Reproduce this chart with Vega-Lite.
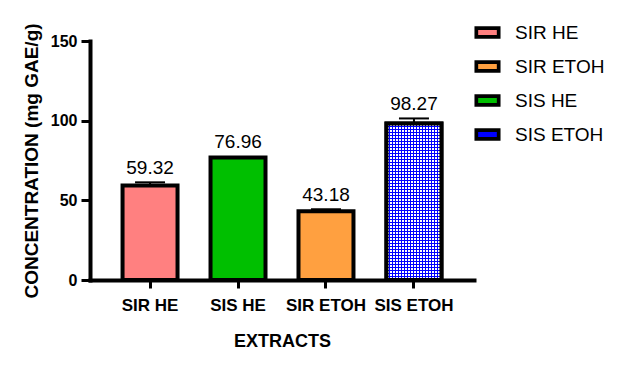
{
  "$schema": "https://vega.github.io/schema/vega-lite/v6.json",
  "width": 384,
  "height": 239,
  "autosize": "none",
  "padding": {"left": 90, "top": 41, "right": 149, "bottom": 91},
  "config": {
    "font": "Liberation Sans",
    "view": {"stroke": null},
    "axis": {"grid": false, "domainColor": "black", "tickColor": "black", "labelColor": "black", "titleColor": "black"}
  },
  "data": {
    "values": [
      {"extract": "SIR HE", "value": 59.32, "hi": 61.3},
      {"extract": "SIS HE", "value": 76.96, "hi": 77.9},
      {"extract": "SIR ETOH", "value": 43.18, "hi": 44.4},
      {"extract": "SIS ETOH", "value": 98.27, "hi": 101.4}
    ]
  },
  "encoding": {
    "x": {
      "field": "extract", "type": "nominal",
      "sort": ["SIR HE", "SIS HE", "SIR ETOH", "SIS ETOH"],
      "scale": {"paddingInner": 0.375, "paddingOuter": 0.37},
      "axis": {
        "title": "EXTRACTS", "labelAngle": 0,
        "labelFont": "Liberation Sans", "labelFontWeight": "bold", "labelFontSize": 17,
        "titleFont": "Liberation Sans", "titleFontWeight": "bold", "titleFontSize": 18,
        "domainWidth": 4, "domainCap": "square", "tickWidth": 3, "tickSize": 8, "labelPadding": 9, "titlePadding": 19
      }
    }
  },
  "layer": [
    {
      "mark": {"type": "bar", "stroke": "black", "strokeWidth": 4},
      "encoding": {
        "y": {
          "field": "value", "type": "quantitative",
          "scale": {"domain": [0, 150], "nice": false},
          "axis": {
            "title": "CONCENTRATION (mg GAE/g)", "values": [0, 50, 100, 150],
            "labelFont": "Liberation Sans", "labelFontWeight": "bold", "labelFontSize": 16,
            "titleFont": "Liberation Sans", "titleFontWeight": "bold", "titleFontSize": 19,
            "domainWidth": 4, "domainCap": "square", "tickWidth": 3, "tickSize": 9, "labelPadding": 4, "titlePadding": 9
          }
        },
        "color": {
          "field": "extract", "type": "nominal",
          "scale": {"domain": ["SIR HE", "SIR ETOH", "SIS HE", "SIS ETOH"], "range": ["#ff8080", "#ffa040", "#00bf00", "#0000ff"]},
          "legend": {
            "title": null, "orient": "none", "legendX": 384, "legendY": -22,
            "symbolType": "M-1,-0.4L1,-0.4L1,0.4L-1,0.4Z", "symbolSize": 500,
            "symbolStrokeColor": "black", "symbolStrokeWidth": 3.7, "symbolOpacity": 1,
            "labelFont": "Liberation Sans", "labelFontSize": 19, "labelColor": "black",
            "labelOffset": 14, "rowPadding": 8
          }
        }
      }
    },
    {
      "transform": [{"filter": "datum.extract == 'SIS ETOH'"}],
      "mark": {"type": "bar", "fill": {"gradient": "linear", "x1": 0, "y1": 0, "x2": 1, "y2": 0, "stops": [
        {"offset": 0, "color": "rgba(255,255,255,0)"}, {"offset": 0.0182, "color": "rgba(255,255,255,0)"}, {"offset": 0.0182, "color": "#ffffff"}, {"offset": 0.0545, "color": "#ffffff"},
        {"offset": 0.0545, "color": "rgba(255,255,255,0)"}, {"offset": 0.0727, "color": "rgba(255,255,255,0)"}, {"offset": 0.0727, "color": "#ffffff"}, {"offset": 0.1091, "color": "#ffffff"},
        {"offset": 0.1091, "color": "rgba(255,255,255,0)"}, {"offset": 0.1273, "color": "rgba(255,255,255,0)"}, {"offset": 0.1273, "color": "#ffffff"}, {"offset": 0.1636, "color": "#ffffff"},
        {"offset": 0.1636, "color": "rgba(255,255,255,0)"}, {"offset": 0.1818, "color": "rgba(255,255,255,0)"}, {"offset": 0.1818, "color": "#ffffff"}, {"offset": 0.2182, "color": "#ffffff"},
        {"offset": 0.2182, "color": "rgba(255,255,255,0)"}, {"offset": 0.2364, "color": "rgba(255,255,255,0)"}, {"offset": 0.2364, "color": "#ffffff"}, {"offset": 0.2727, "color": "#ffffff"},
        {"offset": 0.2727, "color": "rgba(255,255,255,0)"}, {"offset": 0.2909, "color": "rgba(255,255,255,0)"}, {"offset": 0.2909, "color": "#ffffff"}, {"offset": 0.3273, "color": "#ffffff"},
        {"offset": 0.3273, "color": "rgba(255,255,255,0)"}, {"offset": 0.3455, "color": "rgba(255,255,255,0)"}, {"offset": 0.3455, "color": "#ffffff"}, {"offset": 0.3818, "color": "#ffffff"},
        {"offset": 0.3818, "color": "rgba(255,255,255,0)"}, {"offset": 0.4, "color": "rgba(255,255,255,0)"}, {"offset": 0.4, "color": "#ffffff"}, {"offset": 0.4364, "color": "#ffffff"},
        {"offset": 0.4364, "color": "rgba(255,255,255,0)"}, {"offset": 0.4545, "color": "rgba(255,255,255,0)"}, {"offset": 0.4545, "color": "#ffffff"}, {"offset": 0.4909, "color": "#ffffff"},
        {"offset": 0.4909, "color": "rgba(255,255,255,0)"}, {"offset": 0.5091, "color": "rgba(255,255,255,0)"}, {"offset": 0.5091, "color": "#ffffff"}, {"offset": 0.5455, "color": "#ffffff"},
        {"offset": 0.5455, "color": "rgba(255,255,255,0)"}, {"offset": 0.5636, "color": "rgba(255,255,255,0)"}, {"offset": 0.5636, "color": "#ffffff"}, {"offset": 0.6, "color": "#ffffff"},
        {"offset": 0.6, "color": "rgba(255,255,255,0)"}, {"offset": 0.6182, "color": "rgba(255,255,255,0)"}, {"offset": 0.6182, "color": "#ffffff"}, {"offset": 0.6545, "color": "#ffffff"},
        {"offset": 0.6545, "color": "rgba(255,255,255,0)"}, {"offset": 0.6727, "color": "rgba(255,255,255,0)"}, {"offset": 0.6727, "color": "#ffffff"}, {"offset": 0.7091, "color": "#ffffff"},
        {"offset": 0.7091, "color": "rgba(255,255,255,0)"}, {"offset": 0.7273, "color": "rgba(255,255,255,0)"}, {"offset": 0.7273, "color": "#ffffff"}, {"offset": 0.7636, "color": "#ffffff"},
        {"offset": 0.7636, "color": "rgba(255,255,255,0)"}, {"offset": 0.7818, "color": "rgba(255,255,255,0)"}, {"offset": 0.7818, "color": "#ffffff"}, {"offset": 0.8182, "color": "#ffffff"},
        {"offset": 0.8182, "color": "rgba(255,255,255,0)"}, {"offset": 0.8364, "color": "rgba(255,255,255,0)"}, {"offset": 0.8364, "color": "#ffffff"}, {"offset": 0.8727, "color": "#ffffff"},
        {"offset": 0.8727, "color": "rgba(255,255,255,0)"}, {"offset": 0.8909, "color": "rgba(255,255,255,0)"}, {"offset": 0.8909, "color": "#ffffff"}, {"offset": 0.9273, "color": "#ffffff"},
        {"offset": 0.9273, "color": "rgba(255,255,255,0)"}, {"offset": 0.9455, "color": "rgba(255,255,255,0)"}, {"offset": 0.9455, "color": "#ffffff"}, {"offset": 0.9818, "color": "#ffffff"},
        {"offset": 0.9818, "color": "rgba(255,255,255,0)"}, {"offset": 1, "color": "rgba(255,255,255,0)"}
      ]}},
      "encoding": {"y": {"field": "value", "type": "quantitative"}}
    },
    {
      "transform": [{"filter": "datum.extract == 'SIS ETOH'"}],
      "mark": {"type": "bar", "stroke": "black", "strokeWidth": 4, "fill": {"gradient": "linear", "x1": 0, "y1": 0, "x2": 0, "y2": 1, "stops": [
        {"offset": 0, "color": "#0000ff"}, {"offset": 0.0064, "color": "#0000ff"}, {"offset": 0.0064, "color": "rgba(0,0,255,0)"}, {"offset": 0.0192, "color": "rgba(0,0,255,0)"},
        {"offset": 0.0192, "color": "#0000ff"}, {"offset": 0.0255, "color": "#0000ff"}, {"offset": 0.0255, "color": "rgba(0,0,255,0)"}, {"offset": 0.0383, "color": "rgba(0,0,255,0)"},
        {"offset": 0.0383, "color": "#0000ff"}, {"offset": 0.0447, "color": "#0000ff"}, {"offset": 0.0447, "color": "rgba(0,0,255,0)"}, {"offset": 0.0575, "color": "rgba(0,0,255,0)"},
        {"offset": 0.0575, "color": "#0000ff"}, {"offset": 0.0639, "color": "#0000ff"}, {"offset": 0.0639, "color": "rgba(0,0,255,0)"}, {"offset": 0.0766, "color": "rgba(0,0,255,0)"},
        {"offset": 0.0766, "color": "#0000ff"}, {"offset": 0.0830, "color": "#0000ff"}, {"offset": 0.0830, "color": "rgba(0,0,255,0)"}, {"offset": 0.0958, "color": "rgba(0,0,255,0)"},
        {"offset": 0.0958, "color": "#0000ff"}, {"offset": 0.1022, "color": "#0000ff"}, {"offset": 0.1022, "color": "rgba(0,0,255,0)"}, {"offset": 0.1149, "color": "rgba(0,0,255,0)"},
        {"offset": 0.1149, "color": "#0000ff"}, {"offset": 0.1213, "color": "#0000ff"}, {"offset": 0.1213, "color": "rgba(0,0,255,0)"}, {"offset": 0.1341, "color": "rgba(0,0,255,0)"},
        {"offset": 0.1341, "color": "#0000ff"}, {"offset": 0.1405, "color": "#0000ff"}, {"offset": 0.1405, "color": "rgba(0,0,255,0)"}, {"offset": 0.1533, "color": "rgba(0,0,255,0)"},
        {"offset": 0.1533, "color": "#0000ff"}, {"offset": 0.1596, "color": "#0000ff"}, {"offset": 0.1596, "color": "rgba(0,0,255,0)"}, {"offset": 0.1724, "color": "rgba(0,0,255,0)"},
        {"offset": 0.1724, "color": "#0000ff"}, {"offset": 0.1788, "color": "#0000ff"}, {"offset": 0.1788, "color": "rgba(0,0,255,0)"}, {"offset": 0.1916, "color": "rgba(0,0,255,0)"},
        {"offset": 0.1916, "color": "#0000ff"}, {"offset": 0.1980, "color": "#0000ff"}, {"offset": 0.1980, "color": "rgba(0,0,255,0)"}, {"offset": 0.2107, "color": "rgba(0,0,255,0)"},
        {"offset": 0.2107, "color": "#0000ff"}, {"offset": 0.2171, "color": "#0000ff"}, {"offset": 0.2171, "color": "rgba(0,0,255,0)"}, {"offset": 0.2299, "color": "rgba(0,0,255,0)"},
        {"offset": 0.2299, "color": "#0000ff"}, {"offset": 0.2363, "color": "#0000ff"}, {"offset": 0.2363, "color": "rgba(0,0,255,0)"}, {"offset": 0.2490, "color": "rgba(0,0,255,0)"},
        {"offset": 0.2490, "color": "#0000ff"}, {"offset": 0.2554, "color": "#0000ff"}, {"offset": 0.2554, "color": "rgba(0,0,255,0)"}, {"offset": 0.2682, "color": "rgba(0,0,255,0)"},
        {"offset": 0.2682, "color": "#0000ff"}, {"offset": 0.2746, "color": "#0000ff"}, {"offset": 0.2746, "color": "rgba(0,0,255,0)"}, {"offset": 0.2874, "color": "rgba(0,0,255,0)"},
        {"offset": 0.2874, "color": "#0000ff"}, {"offset": 0.2937, "color": "#0000ff"}, {"offset": 0.2937, "color": "rgba(0,0,255,0)"}, {"offset": 0.3065, "color": "rgba(0,0,255,0)"},
        {"offset": 0.3065, "color": "#0000ff"}, {"offset": 0.3129, "color": "#0000ff"}, {"offset": 0.3129, "color": "rgba(0,0,255,0)"}, {"offset": 0.3257, "color": "rgba(0,0,255,0)"},
        {"offset": 0.3257, "color": "#0000ff"}, {"offset": 0.3321, "color": "#0000ff"}, {"offset": 0.3321, "color": "rgba(0,0,255,0)"}, {"offset": 0.3448, "color": "rgba(0,0,255,0)"},
        {"offset": 0.3448, "color": "#0000ff"}, {"offset": 0.3512, "color": "#0000ff"}, {"offset": 0.3512, "color": "rgba(0,0,255,0)"}, {"offset": 0.3640, "color": "rgba(0,0,255,0)"},
        {"offset": 0.3640, "color": "#0000ff"}, {"offset": 0.3704, "color": "#0000ff"}, {"offset": 0.3704, "color": "rgba(0,0,255,0)"}, {"offset": 0.3831, "color": "rgba(0,0,255,0)"},
        {"offset": 0.3831, "color": "#0000ff"}, {"offset": 0.3895, "color": "#0000ff"}, {"offset": 0.3895, "color": "rgba(0,0,255,0)"}, {"offset": 0.4023, "color": "rgba(0,0,255,0)"},
        {"offset": 0.4023, "color": "#0000ff"}, {"offset": 0.4087, "color": "#0000ff"}, {"offset": 0.4087, "color": "rgba(0,0,255,0)"}, {"offset": 0.4215, "color": "rgba(0,0,255,0)"},
        {"offset": 0.4215, "color": "#0000ff"}, {"offset": 0.4278, "color": "#0000ff"}, {"offset": 0.4278, "color": "rgba(0,0,255,0)"}, {"offset": 0.4406, "color": "rgba(0,0,255,0)"},
        {"offset": 0.4406, "color": "#0000ff"}, {"offset": 0.4470, "color": "#0000ff"}, {"offset": 0.4470, "color": "rgba(0,0,255,0)"}, {"offset": 0.4598, "color": "rgba(0,0,255,0)"},
        {"offset": 0.4598, "color": "#0000ff"}, {"offset": 0.4662, "color": "#0000ff"}, {"offset": 0.4662, "color": "rgba(0,0,255,0)"}, {"offset": 0.4789, "color": "rgba(0,0,255,0)"},
        {"offset": 0.4789, "color": "#0000ff"}, {"offset": 0.4853, "color": "#0000ff"}, {"offset": 0.4853, "color": "rgba(0,0,255,0)"}, {"offset": 0.4981, "color": "rgba(0,0,255,0)"},
        {"offset": 0.4981, "color": "#0000ff"}, {"offset": 0.5045, "color": "#0000ff"}, {"offset": 0.5045, "color": "rgba(0,0,255,0)"}, {"offset": 0.5172, "color": "rgba(0,0,255,0)"},
        {"offset": 0.5172, "color": "#0000ff"}, {"offset": 0.5236, "color": "#0000ff"}, {"offset": 0.5236, "color": "rgba(0,0,255,0)"}, {"offset": 0.5364, "color": "rgba(0,0,255,0)"},
        {"offset": 0.5364, "color": "#0000ff"}, {"offset": 0.5428, "color": "#0000ff"}, {"offset": 0.5428, "color": "rgba(0,0,255,0)"}, {"offset": 0.5556, "color": "rgba(0,0,255,0)"},
        {"offset": 0.5556, "color": "#0000ff"}, {"offset": 0.5619, "color": "#0000ff"}, {"offset": 0.5619, "color": "rgba(0,0,255,0)"}, {"offset": 0.5747, "color": "rgba(0,0,255,0)"},
        {"offset": 0.5747, "color": "#0000ff"}, {"offset": 0.5811, "color": "#0000ff"}, {"offset": 0.5811, "color": "rgba(0,0,255,0)"}, {"offset": 0.5939, "color": "rgba(0,0,255,0)"},
        {"offset": 0.5939, "color": "#0000ff"}, {"offset": 0.6003, "color": "#0000ff"}, {"offset": 0.6003, "color": "rgba(0,0,255,0)"}, {"offset": 0.6130, "color": "rgba(0,0,255,0)"},
        {"offset": 0.6130, "color": "#0000ff"}, {"offset": 0.6194, "color": "#0000ff"}, {"offset": 0.6194, "color": "rgba(0,0,255,0)"}, {"offset": 0.6322, "color": "rgba(0,0,255,0)"},
        {"offset": 0.6322, "color": "#0000ff"}, {"offset": 0.6386, "color": "#0000ff"}, {"offset": 0.6386, "color": "rgba(0,0,255,0)"}, {"offset": 0.6513, "color": "rgba(0,0,255,0)"},
        {"offset": 0.6513, "color": "#0000ff"}, {"offset": 0.6577, "color": "#0000ff"}, {"offset": 0.6577, "color": "rgba(0,0,255,0)"}, {"offset": 0.6705, "color": "rgba(0,0,255,0)"},
        {"offset": 0.6705, "color": "#0000ff"}, {"offset": 0.6769, "color": "#0000ff"}, {"offset": 0.6769, "color": "rgba(0,0,255,0)"}, {"offset": 0.6897, "color": "rgba(0,0,255,0)"},
        {"offset": 0.6897, "color": "#0000ff"}, {"offset": 0.6960, "color": "#0000ff"}, {"offset": 0.6960, "color": "rgba(0,0,255,0)"}, {"offset": 0.7088, "color": "rgba(0,0,255,0)"},
        {"offset": 0.7088, "color": "#0000ff"}, {"offset": 0.7152, "color": "#0000ff"}, {"offset": 0.7152, "color": "rgba(0,0,255,0)"}, {"offset": 0.7280, "color": "rgba(0,0,255,0)"},
        {"offset": 0.7280, "color": "#0000ff"}, {"offset": 0.7344, "color": "#0000ff"}, {"offset": 0.7344, "color": "rgba(0,0,255,0)"}, {"offset": 0.7471, "color": "rgba(0,0,255,0)"},
        {"offset": 0.7471, "color": "#0000ff"}, {"offset": 0.7535, "color": "#0000ff"}, {"offset": 0.7535, "color": "rgba(0,0,255,0)"}, {"offset": 0.7663, "color": "rgba(0,0,255,0)"},
        {"offset": 0.7663, "color": "#0000ff"}, {"offset": 0.7727, "color": "#0000ff"}, {"offset": 0.7727, "color": "rgba(0,0,255,0)"}, {"offset": 0.7854, "color": "rgba(0,0,255,0)"},
        {"offset": 0.7854, "color": "#0000ff"}, {"offset": 0.7918, "color": "#0000ff"}, {"offset": 0.7918, "color": "rgba(0,0,255,0)"}, {"offset": 0.8046, "color": "rgba(0,0,255,0)"},
        {"offset": 0.8046, "color": "#0000ff"}, {"offset": 0.8110, "color": "#0000ff"}, {"offset": 0.8110, "color": "rgba(0,0,255,0)"}, {"offset": 0.8238, "color": "rgba(0,0,255,0)"},
        {"offset": 0.8238, "color": "#0000ff"}, {"offset": 0.8301, "color": "#0000ff"}, {"offset": 0.8301, "color": "rgba(0,0,255,0)"}, {"offset": 0.8429, "color": "rgba(0,0,255,0)"},
        {"offset": 0.8429, "color": "#0000ff"}, {"offset": 0.8493, "color": "#0000ff"}, {"offset": 0.8493, "color": "rgba(0,0,255,0)"}, {"offset": 0.8621, "color": "rgba(0,0,255,0)"},
        {"offset": 0.8621, "color": "#0000ff"}, {"offset": 0.8685, "color": "#0000ff"}, {"offset": 0.8685, "color": "rgba(0,0,255,0)"}, {"offset": 0.8812, "color": "rgba(0,0,255,0)"},
        {"offset": 0.8812, "color": "#0000ff"}, {"offset": 0.8876, "color": "#0000ff"}, {"offset": 0.8876, "color": "rgba(0,0,255,0)"}, {"offset": 0.9004, "color": "rgba(0,0,255,0)"},
        {"offset": 0.9004, "color": "#0000ff"}, {"offset": 0.9068, "color": "#0000ff"}, {"offset": 0.9068, "color": "rgba(0,0,255,0)"}, {"offset": 0.9195, "color": "rgba(0,0,255,0)"},
        {"offset": 0.9195, "color": "#0000ff"}, {"offset": 0.9259, "color": "#0000ff"}, {"offset": 0.9259, "color": "rgba(0,0,255,0)"}, {"offset": 0.9387, "color": "rgba(0,0,255,0)"},
        {"offset": 0.9387, "color": "#0000ff"}, {"offset": 0.9451, "color": "#0000ff"}, {"offset": 0.9451, "color": "rgba(0,0,255,0)"}, {"offset": 0.9579, "color": "rgba(0,0,255,0)"},
        {"offset": 0.9579, "color": "#0000ff"}, {"offset": 0.9642, "color": "#0000ff"}, {"offset": 0.9642, "color": "rgba(0,0,255,0)"}, {"offset": 0.9770, "color": "rgba(0,0,255,0)"},
        {"offset": 0.9770, "color": "#0000ff"}, {"offset": 0.9834, "color": "#0000ff"}, {"offset": 0.9834, "color": "rgba(0,0,255,0)"}, {"offset": 0.9962, "color": "rgba(0,0,255,0)"},
        {"offset": 0.9962, "color": "#0000ff"}, {"offset": 1, "color": "#0000ff"}
      ]}},
      "encoding": {"y": {"field": "value", "type": "quantitative"}}
    },
    {
      "transform": [{"filter": "datum.extract != 'SIS HE'"}],
      "mark": {"type": "rule", "color": "black", "strokeWidth": 2},
      "encoding": {"y": {"field": "value", "type": "quantitative"}, "y2": {"field": "hi"}}
    },
    {
      "transform": [{"filter": "datum.extract != 'SIS HE'"}],
      "mark": {"type": "tick", "color": "black", "size": 30, "thickness": 2, "opacity": 1},
      "encoding": {"y": {"field": "hi", "type": "quantitative"}}
    },
    {
      "mark": {"type": "text", "font": "Liberation Sans", "fontSize": 19, "color": "black", "baseline": "alphabetic", "dy": -8},
      "encoding": {
        "y": {"field": "hi", "type": "quantitative"},
        "text": {"field": "value", "type": "quantitative", "format": ".2f"}
      }
    }
  ]
}
